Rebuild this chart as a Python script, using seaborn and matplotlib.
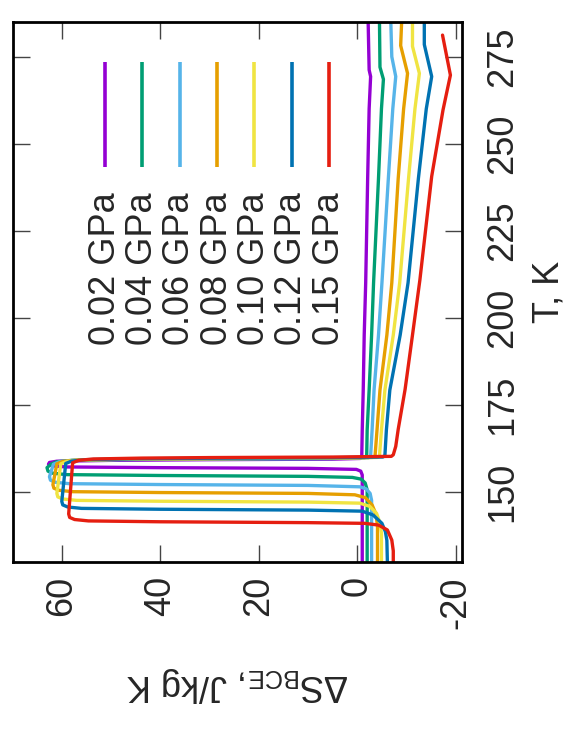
import numpy as np
import pandas as pd
import matplotlib
matplotlib.use("Agg")
import matplotlib.pyplot as plt
import seaborn as sns

# pressures (legend labels) and gnuplot default colours
PRESSURES = ["0.02 GPa", "0.04 GPa", "0.06 GPa", "0.08 GPa", "0.10 GPa", "0.12 GPa", "0.15 GPa"]
COLORS = ["#9400D3", "#009E73", "#56B4E9", "#E69F00", "#F0E442", "#0072B2", "#E51E10"]

# temperature (K) and entropy change (J/kg K)
T_002 = [130, 154.8, 155.9, 156.4, 156.7, 156.9, 157.1, 157.4, 157.9, 158.4, 158.75, 159.0, 159.2,
         159.35, 159.55, 160.0, 167.7, 179.2, 195, 210, 240, 260, 269.3, 271.2, 285]
S_002 = [-1.0, -1.0, -0.7, 0.2, 10, 40, 59.0, 61.8, 62.7, 62.5, 61.0, 50.0, 30,
         5, -0.6, -0.9, -1.0, -1.2, -1.4, -1.7, -2.1, -2.4, -2.7, -2.4, -2.2]

T_004 = [130, 150.5, 152.5, 153.6, 154.1, 154.4, 154.65, 154.9, 155.3, 155.9, 156.9, 157.9, 158.6, 159.0,
         159.25, 159.4, 159.55, 159.75, 160.2, 167.7, 179.2, 195, 210, 240, 260, 268.5, 272, 285]
S_004 = [-2.0, -2.0, -1.6, -0.8, 1.0, 10, 40, 59.0, 61.8, 62.8, 63.0, 62.2, 61.0, 58.0,
         48.0, 30, 5, -1.5, -1.9, -2.0, -2.4, -2.9, -3.3, -4.3, -4.9, -5.3, -4.6, -4.5]

T_006 = [130, 147.5, 149.5, 150.8, 151.4, 151.8, 152.05, 152.3, 152.7, 153.3, 154.3, 157.9, 158.6, 159.0,
         159.25, 159.4, 159.55, 159.75, 160.2, 167.7, 179.2, 195, 210, 240, 260, 269.3, 275, 285]
S_006 = [-2.9, -2.9, -2.6, -1.8, -0.5, 10, 40, 58.5, 61.3, 62.3, 62.5, 61.7, 60.5, 57.5,
         47.5, 30, 5, -2.3, -2.7, -3.0, -3.4, -4.3, -5.0, -6.3, -7.2, -7.8, -7.0, -6.8]

T_008 = [130, 140, 143.5, 146.2, 148.3, 149.1, 149.5, 149.75, 150.0, 150.4, 151.0, 152.0, 158.0, 158.7,
         159.1, 159.35, 159.5, 159.65, 159.85, 160.3, 167.7, 179.2, 195, 210, 240, 260, 270.2, 278.2, 285]
S_008 = [-4.1, -4.1, -3.8, -3.0, -1.6, 0.5, 10, 40, 57.8, 60.6, 61.6, 61.8, 61.0, 59.8,
         56.8, 46.8, 30, 5, -3.2, -3.6, -4.0, -4.6, -6.0, -7.0, -8.3, -9.4, -10.2, -8.8, -9.0]

T_010 = [130, 138, 141, 143.8, 145.8, 146.7, 147.0, 147.25, 147.5, 147.9, 148.5, 149.5, 158.0, 158.7,
         159.1, 159.35, 159.5, 159.65, 159.85, 160.3, 167.7, 179.2, 195, 210, 240, 260, 270.2, 278, 285]
S_010 = [-4.9, -4.9, -4.6, -3.9, -2.5, -0.5, 10, 40, 57.0, 59.8, 60.8, 61.0, 60.2, 59.0,
         56.0, 46.0, 30, 5, -4.1, -4.5, -4.9, -5.6, -7.3, -8.6, -10.4, -11.7, -12.6, -11.2, -11.2]

T_012 = [130, 136, 138.5, 140.9, 143.3, 144.4, 144.7, 144.95, 145.2, 145.6, 146.2, 147.2, 158.1, 158.8,
         159.2, 159.45, 159.6, 159.75, 159.95, 160.4, 167.7, 179.2, 195, 210, 240, 260, 269.3, 278.5, 285]
S_012 = [-6.1, -6.0, -5.7, -5.0, -3.2, -1.0, 10, 40, 56.0, 58.8, 59.8, 60.0, 59.2, 58.0,
         55.0, 45.0, 30, 5, -5.2, -5.6, -5.9, -6.6, -8.7, -10.3, -12.4, -14.0, -15.1, -13.6, -13.6]

T_015 = [130, 133, 136.1, 139.0, 140.4, 140.9, 141.1, 141.35, 141.6, 142.0, 142.6, 143.6, 158.3, 159.0,
         159.4, 159.65, 159.8, 159.95, 160.15, 160.6, 163.0, 167.9, 179.4, 195, 210.8, 240.6, 259.7, 269.7, 281.2]
S_015 = [-7.3, -7.3, -7.0, -6.1, -4.3, -1.5, 10, 40, 54.6, 57.4, 58.4, 58.6, 57.8, 56.6,
         53.6, 43.6, 30, 5, -6.9, -7.3, -7.8, -8.3, -9.7, -11.2, -12.7, -15.1, -17.4, -18.9, -17.3]

T_ALL = [T_002, T_004, T_006, T_008, T_010, T_012, T_015]
S_ALL = [S_002, S_004, S_006, S_008, S_010, S_012, S_015]

S_TICKS = [60, 40, 20, 0, -20]
T_TICKS = [150, 175, 200, 225, 250, 275]


def build_frame():

    frames = []
    for label, t, s in zip(PRESSURES, T_ALL, S_ALL):
        frames.append(pd.DataFrame({"T": t, "dS": s, "p": label}))
    return pd.concat(frames, ignore_index=True)


def main():

    sns.set_theme(style="ticks")
    plt.rcParams.update(
        {
            "font.family": ["Liberation Sans", "DejaVu Sans"],
            "mathtext.fontset": "custom",
            "mathtext.rm": "Liberation Sans",
            "mathtext.it": "Liberation Sans:italic",
            "mathtext.bf": "Liberation Sans:bold",
        }
    )

    df = build_frame()
    fs = 26

    fig = plt.figure(figsize=(5.8, 7.3), dpi=100)
    ax = fig.add_axes([0.0216, 0.2297, 0.7745, 0.7408])

    # the original gnuplot figure is rotated: dS runs along the bottom, T up the right side
    sns.lineplot(
        data=df,
        x="dS",
        y="T",
        hue="p",
        hue_order=PRESSURES,
        palette=COLORS,
        sort=False,
        estimator=None,
        orient="y",
        legend=False,
        linewidth=2.4,
        ax=ax,
    )
    for line in ax.get_lines():
        line.set_solid_capstyle("round")
        line.set_solid_joinstyle("round")

    ax.set_xlim(70, -21.2)
    ax.set_ylim(129.7, 285.1)
    ax.set_xticks(S_TICKS)
    ax.set_xticklabels([str(v) for v in S_TICKS], rotation=90, fontsize=fs)
    ax.set_yticks(T_TICKS)
    ax.set_yticklabels([str(v) for v in T_TICKS], rotation=90, fontsize=fs, va="center")

    ax.tick_params(
        direction="in", length=12.5, width=1.0, color="#444444",
        top=True, right=True, left=True, bottom=True,
        labelleft=False, labelright=True, labeltop=False, labelbottom=True,
    )
    ax.tick_params(axis="x", pad=10)
    ax.tick_params(axis="y", pad=17)

    for spine in ax.spines.values():
        spine.set_visible(True)
        spine.set_linewidth(2.0)
        spine.set_color("black")

    ax.yaxis.set_label_position("right")
    ax.set_ylabel("T, K", fontsize=fs, rotation=90, labelpad=8)
    ax.set_xlabel(r"$\Delta$S$_{\mathrm{BCE}}$, J/kg K", fontsize=fs, rotation=180, labelpad=26)

    # key: sample line above each rotated label
    x0, dx = 0.206, 0.0831
    for i, (label, color) in enumerate(zip(PRESSURES, COLORS)):
        xa = x0 + i * dx
        ax.plot([xa, xa], [0.7304, 0.9257], color=color, lw=2.6, transform=ax.transAxes,
                solid_capstyle="butt")
        ax.text(xa, 0.685, label, rotation=90, ha="center", va="top", fontsize=fs,
                transform=ax.transAxes)

    fig.savefig("out.png", dpi=100)
    plt.close(fig)


if __name__ == "__main__":
    main()
